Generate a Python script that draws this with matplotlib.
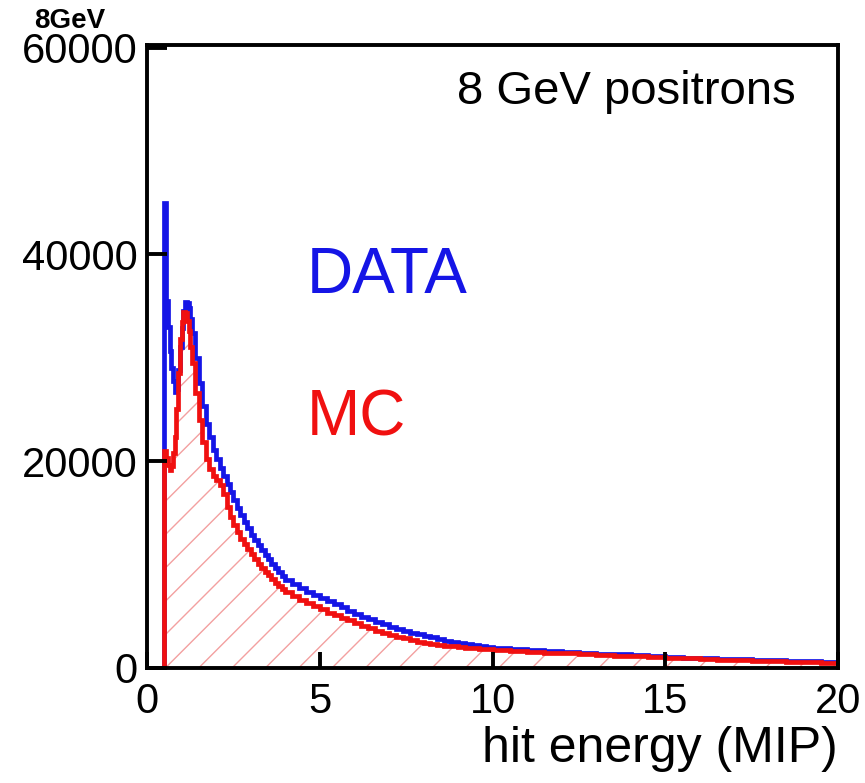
import matplotlib
matplotlib.use("Agg")
import numpy as np
import matplotlib.pyplot as plt

# histogram bin edges (MIP): empty region below threshold, then finer bins
edges = np.round(np.concatenate([
    [0.0],
    np.arange(0.5, 1.3, 0.05),
    np.arange(1.3, 4.0, 0.1),
    np.arange(4.0, 10.0, 0.2),
    np.arange(10.0, 20.01, 0.5),
]), 3)

data_counts = [
    0,
    # 0.5 - 1.3 (0.05 bins)
    45000, 35500, 33000, 30700, 29000, 27800, 26700, 27000,
    28800, 31000, 32900, 34500, 35400, 35300, 34800, 33800,
    # 1.3 - 4.0 (0.1 bins)
    32400, 30000, 27600, 25300, 23600, 22300, 21100, 20200, 19300,
    18600, 17800, 17000, 16200, 15500, 14800, 14100, 13500, 12900,
    12400, 11900, 11400, 10900, 10500, 10100, 9700, 9300, 8900,
    # 4.0 - 10.0 (0.2 bins)
    8500, 8100, 7700, 7350, 7050, 6750, 6450, 6150, 5850, 5550,
    5250, 4950, 4700, 4450, 4200, 3950, 3750, 3550, 3400, 3250,
    3100, 2950, 2800, 2650, 2550, 2450, 2350, 2250, 2150, 2050,
    # 10 - 20 (0.5 bins)
    1950, 1850, 1750, 1650, 1550, 1450, 1380, 1300, 1230, 1150,
    1080, 1000, 950, 900, 840, 790, 740, 690, 640, 590,
]

mc_counts = [
    0,
    21000, 20300, 19600, 19100, 19500, 20800, 22300, 25000,
    28500, 31800, 33500, 34400, 34300, 33600, 32600, 31000,
    29500, 26600, 24000, 21900, 20200, 19200, 18600, 18200, 17700,
    16800, 15600, 14600, 13800, 13100, 12500, 12000, 11500, 11000,
    10500, 10100, 9700, 9300, 8950, 8600, 8250, 7900, 7600,
    7300, 6950, 6600, 6250, 5950, 5650, 5350, 5100, 4850, 4600,
    4350, 4100, 3850, 3600, 3400, 3200, 3000, 2850, 2700, 2550,
    2450, 2350, 2250, 2150, 2080, 2020, 1960, 1900, 1850, 1800,
    1750, 1650, 1560, 1480, 1400, 1320, 1250, 1180, 1110, 1050,
    980, 920, 860, 800, 750, 700, 650, 600, 560, 520,
]

x_ticks = [0, 5, 10, 15, 20]
y_ticks = [0, 20000, 40000, 60000]

plt.rcParams['font.family'] = ['Liberation Sans', 'DejaVu Sans']
plt.rcParams['hatch.linewidth'] = 0.5

fig = plt.figure(figsize=(4.325, 3.915), dpi=200)
ax = fig.add_axes([0.170, 0.147, 0.799, 0.796])

# hatched MC area
ax.stairs(mc_counts, edges, fill=True, facecolor='none', edgecolor='#f3a0a0',
          hatch='//', linewidth=0)
ax.stairs(data_counts, edges, color='#1515e6', linewidth=1.7)
ax.stairs(mc_counts, edges, color='#f01010', linewidth=1.7)

ax.set_xlim(0, 20)
ax.set_ylim(0, 60300)
ax.set_xticks(x_ticks)
ax.set_yticks(y_ticks)
ax.set_xticklabels([str(t) for t in x_ticks])
ax.set_yticklabels([str(t) for t in y_ticks])
ax.tick_params(axis='both', direction='in', width=1.4, labelsize=15)
ax.tick_params(axis='x', length=5.8, pad=5)
ax.tick_params(axis='y', length=7.2, pad=3.5)
for s in ax.spines.values():
    s.set_linewidth(1.4)

ax.set_xlabel("hit energy (MIP)", fontsize=18, loc='right', labelpad=1.5)

ax.text(0.938, 0.905, "8 GeV positrons", transform=ax.transAxes,
        ha='right', va='baseline', fontsize=17)
ax.text(0.2315, 0.601, "DATA", transform=ax.transAxes, color='#1515e6',
        ha='left', va='baseline', fontsize=23)
ax.text(0.2315, 0.373, "MC", transform=ax.transAxes, color='#f01010',
        ha='left', va='baseline', fontsize=23)
fig.text(0.04, 0.964, "8GeV", fontsize=10, fontweight='bold',
         ha='left', va='baseline')

fig.savefig("out.png", dpi=200)
